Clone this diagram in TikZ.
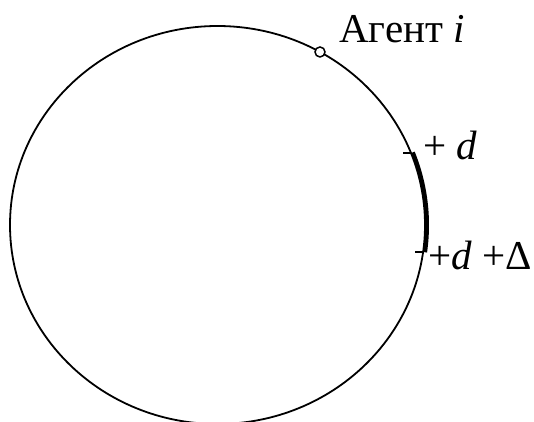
\documentclass[tikz,border=0pt]{standalone}
\usepackage{fontspec}
\setmainfont{Liberation Serif}
\usetikzlibrary{calc}
\begin{document}
\begin{tikzpicture}[x=1pt,y=1pt,
  ring/.style={line width=1.8pt},
  span/.style={line width=4pt},
  tickmark/.style={line width=1.6pt},
  agent/.style={circle,draw,fill=white,line width=1.5pt,minimum size=10pt,inner sep=0},
  lbl/.style={anchor=base west,inner sep=0,font=\fontsize{41}{48}\selectfont}]
\useasboundingbox (0,0) rectangle (534,421);
% ring of agents (slightly flattened circle)
\def\rx{207.5}
\def\ry{199}
\coordinate (o) at (217.5,196);
\draw[ring] (o) ellipse [x radius=\rx, y radius=\ry];
% interval from +d to +d+Delta
\coordinate (s) at ($(o)+(21.2:{\rx} and {\ry})$);
\coordinate (e) at ($(o)+(-7.8:{\rx} and {\ry})$);
\draw[span] ($(o)+(21.2:{\rx+2} and {\ry+2})$) arc[start angle=21.2, end angle=-7.8, x radius={\rx+2}, y radius={\ry+2}];
\draw[tickmark] (s) -- ++(-8,0);
\draw[tickmark] (e) -- ++(-8,0);
% agent on the ring
\node[agent] (ag) at ($(o)+(60.4:{\rx} and {\ry})$) {};
\node[lbl] (agl) at (339,378) {Агент \textit{i}};
\node[lbl] (dl) at (423,262) {+ \textit{d}};
\node[lbl] (ddl) at (428,152) {+\textit{d} +Δ};
\end{tikzpicture}
\end{document}
